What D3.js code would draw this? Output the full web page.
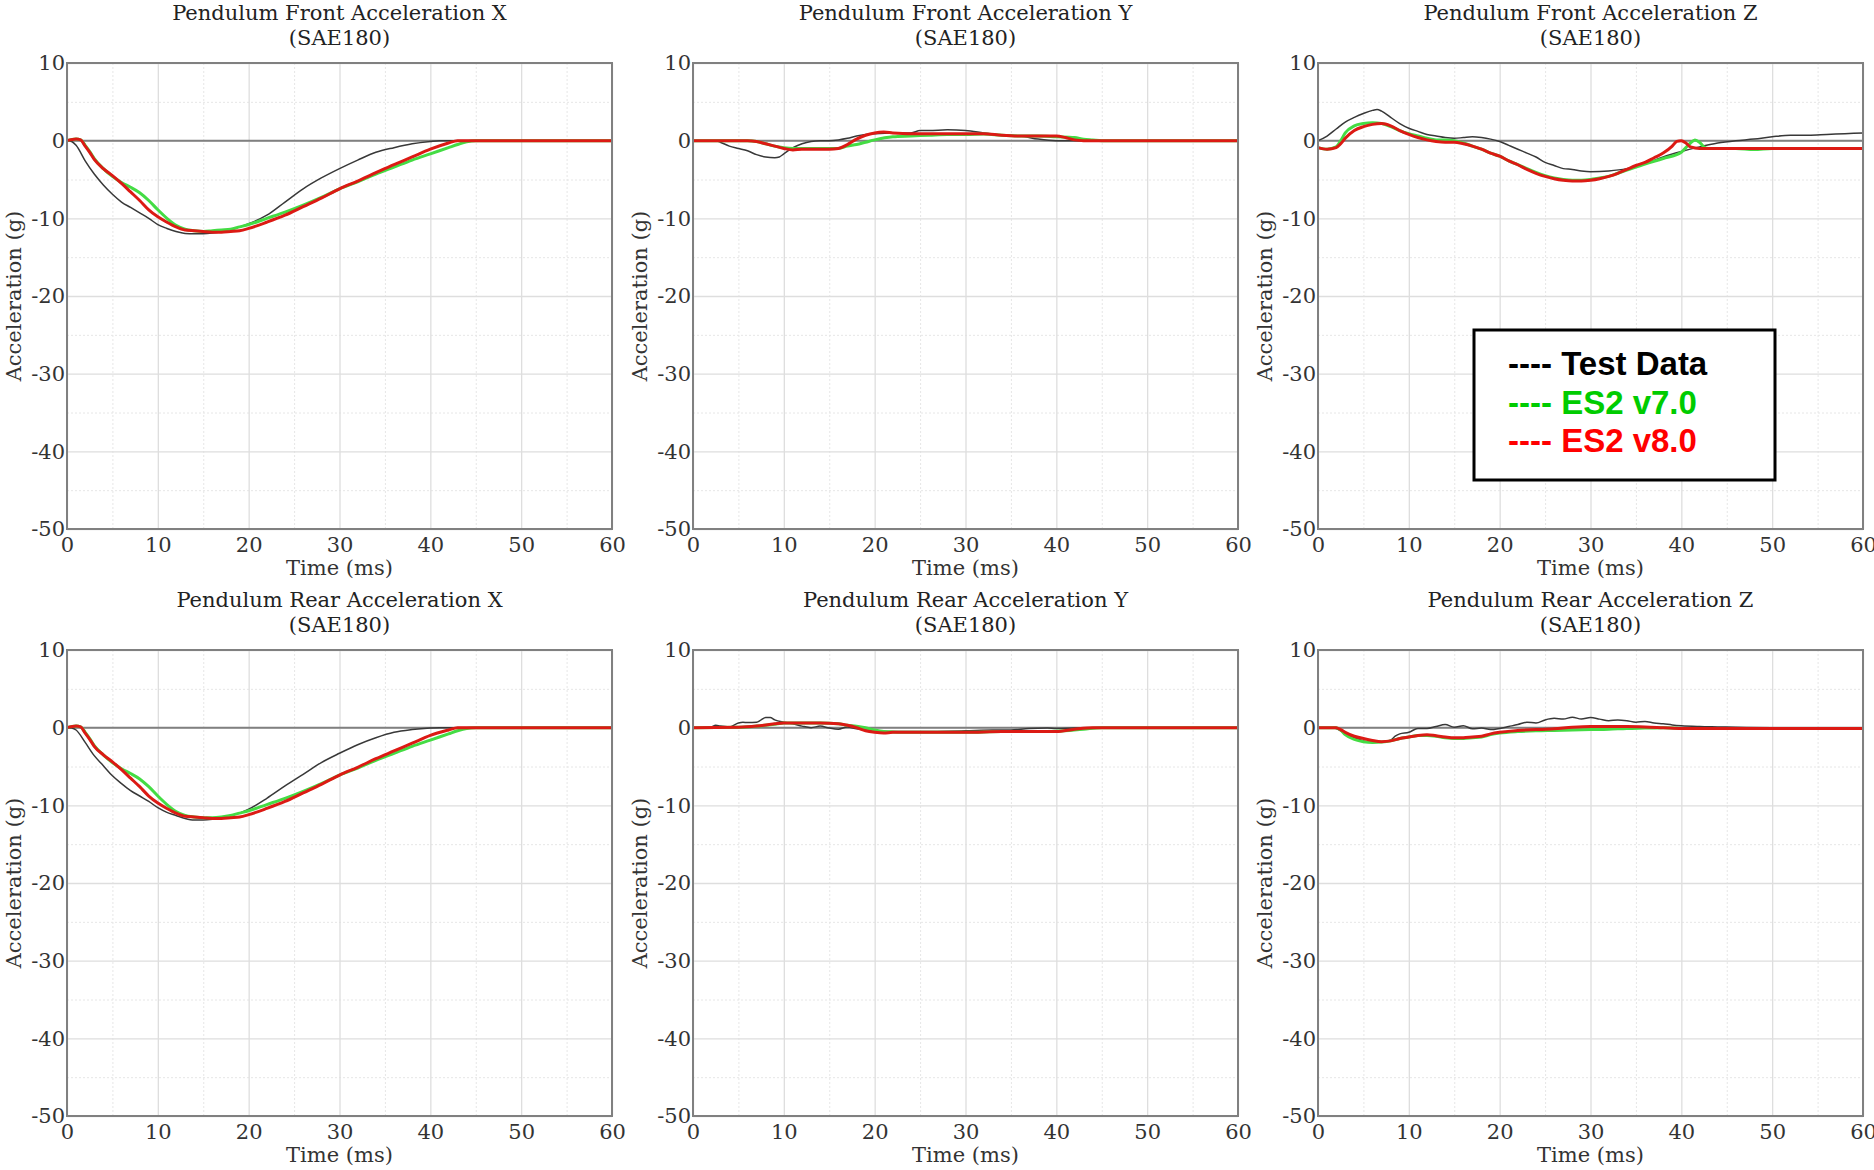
<!DOCTYPE html>
<html>
<head>
<meta charset="utf-8">
<script src="https://cdn.jsdelivr.net/npm/d3@7"></script>
<style>
  body { margin: 0; background: #fff; }
  svg { display: block; }
  .tick text { font-family: 'DejaVu Serif', serif; font-size: 21px; fill: #333; }
  .grid .domain { display: none; }
</style>
</head>
<body>
<svg id="chart"></svg>
<script>
// [time (ms), acceleration (g)]
var frontXTest = [[0,0],[0.5,-0.1],[1,-0.6],[2,-2.6],[3,-4.3],[4,-5.7],[5,-6.9],[6,-7.9],[7,-8.6],[8,-9.3],[9,-10],[10,-10.8],[11,-11.3],[12,-11.7],[13,-11.95],[14,-12],[15,-12],[16,-11.9],[17,-11.7],[18,-11.4],[19,-11.1],[20,-10.7],[22,-9.6],[24,-7.9],[26,-6.2],[28,-4.8],[30,-3.6],[32,-2.5],[34,-1.5],[36,-0.9],[38,-0.4],[40,-0.1],[41,0],[60,0]];
var frontXV7 = [[0,0],[1,0.2],[1.5,0.1],[2,-0.6],[2.5,-1.4],[3,-2.3],[4,-3.6],[5,-4.6],[6,-5.4],[7,-6.0],[8,-6.7],[9,-7.7],[10,-8.9],[11,-10],[12,-10.9],[13,-11.4],[14,-11.6],[15,-11.7],[16,-11.6],[17,-11.5],[18,-11.4],[19,-11.1],[20,-10.8],[22,-10.0],[24,-9.2],[26,-8.3],[28,-7.3],[30,-6.2],[32,-5.3],[34,-4.3],[36,-3.4],[38,-2.5],[40,-1.7],[42,-0.9],[43,-0.5],[44,-0.15],[45,0],[60,0]];
var frontXV8 = [[0,0],[1,0.2],[1.5,0.1],[2,-0.7],[2.5,-1.5],[3,-2.4],[4,-3.6],[5,-4.5],[6,-5.5],[7,-6.6],[8,-7.7],[9,-8.9],[10,-9.8],[11,-10.5],[12,-11.1],[13,-11.5],[14,-11.6],[15,-11.7],[16,-11.8],[17,-11.8],[18,-11.7],[19,-11.6],[20,-11.3],[22,-10.5],[24,-9.6],[26,-8.5],[28,-7.4],[30,-6.2],[32,-5.2],[34,-4.1],[36,-3.1],[38,-2.1],[40,-1.1],[42,-0.3],[43,0],[60,0]];

var frontYTest = [[0,0],[2.5,0],[3,-0.2],[4,-0.7],[5,-1.0],[6,-1.3],[7,-1.8],[8,-2.1],[9,-2.2],[9.5,-2.1],[10,-1.7],[11,-0.9],[12,-0.4],[13,-0.1],[14,0],[15,0],[16,0.1],[17,0.3],[18,0.6],[19,0.8],[20,0.9],[22,1.0],[24,1.0],[25,1.3],[26,1.3],[28,1.4],[30,1.3],[32,1.0],[34,0.7],[36,0.6],[38,0.2],[40,0],[60,0]];
var frontYV7 = [[0,0],[6,0],[7,-0.1],[8,-0.4],[9,-0.7],[10,-0.9],[11,-1.0],[12,-1.0],[14,-1.0],[16,-1.0],[17,-0.7],[18,-0.5],[19,-0.2],[20,0.1],[22,0.5],[24,0.6],[26,0.7],[28,0.8],[30,0.8],[32,0.85],[34,0.7],[36,0.6],[38,0.6],[40,0.5],[42,0.4],[43,0.2],[44,0.1],[45,0],[60,0]];
var frontYV8 = [[0,0],[6,0],[7,-0.1],[8,-0.4],[9,-0.7],[10,-1.0],[11,-1.2],[12,-1.1],[14,-1.1],[15,-1.1],[16,-1.0],[17,-0.5],[18,0.2],[19,0.7],[20,1.0],[21,1.1],[22,1.0],[24,0.9],[26,0.9],[28,0.9],[30,0.9],[32,0.9],[34,0.7],[36,0.6],[38,0.6],[40,0.6],[41,0.4],[42,0.1],[43,0],[60,0]];

var frontZTest = [[0,0],[1,0.6],[2,1.5],[3,2.4],[4,3.0],[5,3.5],[6,3.9],[6.5,4.0],[7,3.8],[8,3.0],[9,2.2],[10,1.6],[11,1.2],[12,0.8],[13,0.6],[14,0.4],[15,0.3],[16,0.4],[17,0.5],[18,0.4],[19,0.2],[20,-0.1],[21,-0.6],[22,-1.1],[23,-1.6],[24,-2.1],[25,-2.8],[26,-3.2],[27,-3.6],[28,-3.7],[29,-3.9],[30,-4.0],[32,-3.9],[34,-3.6],[36,-3.0],[38,-2.1],[40,-1.4],[42,-0.8],[44,-0.3],[46,0],[48,0.2],[50,0.5],[52,0.7],[54,0.7],[56,0.8],[58,0.9],[60,1.0]];
var frontZV7 = [[0,-0.9],[1,-1.1],[2,-0.8],[2.5,0],[3,1.0],[4,1.9],[5,2.2],[6,2.3],[7,2.2],[8,1.8],[9,1.3],[10,0.9],[11,0.6],[12,0.3],[13,0.1],[14,0.1],[15,0],[16,-0.3],[17,-0.7],[18,-1.1],[19,-1.6],[20,-2.0],[21,-2.6],[22,-3.1],[23,-3.6],[24,-4.1],[25,-4.5],[26,-4.8],[27,-5.0],[28,-5.1],[29,-5.1],[30,-5.0],[31,-4.8],[32,-4.6],[33,-4.2],[34,-3.8],[36,-3.0],[38,-2.3],[40,-1.5],[40.5,-0.9],[41,-0.3],[41.5,0.1],[42,-0.2],[42.5,-0.8],[43,-1.0],[46,-1.0],[48,-1.15],[50,-1.0],[60,-1.0]];
var frontZV8 = [[0,-0.9],[1,-1.1],[2,-0.9],[2.5,-0.4],[3,0.3],[4,1.3],[5,1.8],[6,2.1],[7,2.2],[8,1.9],[9,1.3],[10,0.8],[11,0.4],[12,0.1],[13,-0.1],[14,-0.2],[15,-0.2],[16,-0.4],[17,-0.7],[18,-1.1],[19,-1.6],[20,-2.0],[21,-2.6],[22,-3.1],[23,-3.7],[24,-4.2],[25,-4.6],[26,-4.9],[27,-5.1],[28,-5.2],[29,-5.2],[30,-5.1],[31,-4.9],[32,-4.6],[33,-4.2],[34,-3.7],[35,-3.2],[36,-2.8],[37,-2.2],[38,-1.6],[39,-0.7],[39.5,-0.1],[40,0],[40.5,-0.3],[41,-0.8],[42,-1.0],[50,-1.0],[60,-1.0]];

var rearXTest = [[0,0],[0.5,-0.05],[1,-0.3],[2,-1.9],[3,-3.6],[4,-4.9],[5,-6.2],[6,-7.2],[7,-8.1],[8,-8.8],[9,-9.5],[10,-10.3],[11,-10.9],[12,-11.3],[13,-11.7],[14,-11.9],[15,-11.9],[16,-11.8],[17,-11.6],[18,-11.3],[19,-11.0],[20,-10.5],[22,-9.1],[24,-7.5],[26,-6.0],[28,-4.5],[30,-3.3],[32,-2.2],[34,-1.3],[36,-0.6],[38,-0.25],[40,-0.05],[41,0],[60,0]];
var rearXV7 = [[0,0],[1,0.2],[1.5,0.1],[2,-0.6],[2.5,-1.4],[3,-2.3],[4,-3.5],[5,-4.5],[6,-5.3],[7,-5.9],[8,-6.6],[9,-7.6],[10,-8.8],[11,-9.9],[12,-10.8],[13,-11.3],[14,-11.5],[15,-11.6],[16,-11.6],[17,-11.5],[18,-11.3],[19,-11.0],[20,-10.7],[22,-9.9],[24,-9.1],[26,-8.2],[28,-7.2],[30,-6.1],[32,-5.2],[34,-4.2],[36,-3.3],[38,-2.4],[40,-1.6],[42,-0.8],[43,-0.4],[44,-0.1],[45,0],[60,0]];
var rearXV8 = [[0,0],[1,0.2],[1.5,0.1],[2,-0.7],[2.5,-1.5],[3,-2.4],[4,-3.5],[5,-4.4],[6,-5.4],[7,-6.5],[8,-7.6],[9,-8.8],[10,-9.7],[11,-10.4],[12,-11.0],[13,-11.4],[14,-11.5],[15,-11.6],[16,-11.7],[17,-11.7],[18,-11.6],[19,-11.5],[20,-11.2],[22,-10.4],[24,-9.5],[26,-8.4],[28,-7.3],[30,-6.1],[32,-5.1],[34,-4.0],[36,-3.0],[38,-2.0],[40,-1.0],[42,-0.3],[43,0],[60,0]];

var rearYTest = [[0,0],[1,0],[2,0.1],[2.5,0.3],[3,0.2],[4,0.1],[5,0.6],[5.5,0.7],[6,0.65],[7,0.7],[7.5,1.0],[8,1.3],[8.5,1.3],[9,1.0],[10,0.7],[11,0.5],[12,0.2],[13,0],[14,0.2],[15,-0.05],[16,-0.2],[17,0.1],[18,-0.15],[19,-0.3],[20,-0.4],[22,-0.5],[25,-0.5],[30,-0.4],[33,-0.3],[35,-0.3],[37,-0.1],[39,-0.05],[40,-0.1],[42,-0.05],[44,0],[60,0]];
var rearYV7 = [[0,0],[5,0.05],[7,0.2],[9,0.45],[10,0.6],[12,0.6],[14,0.6],[16,0.5],[17,0.3],[18,0.2],[19,0],[20,-0.3],[21,-0.5],[22,-0.55],[24,-0.6],[26,-0.6],[30,-0.6],[34,-0.5],[38,-0.5],[40,-0.45],[42,-0.3],[43,-0.2],[45,0],[60,0]];
var rearYV8 = [[0,0],[5,0.05],[7,0.2],[9,0.5],[10,0.6],[12,0.6],[14,0.6],[16,0.5],[17,0.3],[18,0],[19,-0.4],[20,-0.6],[21,-0.7],[22,-0.6],[24,-0.6],[26,-0.6],[30,-0.6],[34,-0.5],[38,-0.5],[40,-0.5],[42,-0.2],[44,0],[60,0]];

var rearZTest = [[0,0],[1.5,0],[2,-0.1],[3,-0.8],[4,-1.3],[5,-1.7],[6,-1.9],[7,-1.8],[8,-1.6],[8.5,-1.1],[9,-0.8],[10,-0.6],[11,-0.1],[12,-0.1],[13,0.15],[14,0.4],[15,0.05],[16,0.25],[17,-0.15],[18,-0.05],[19,-0.25],[20,-0.1],[21,0.15],[22,0.4],[23,0.7],[24,0.6],[25,1.0],[26,1.2],[27,1.1],[28,1.35],[29,1.1],[30,1.3],[31,1.1],[32,0.9],[33,1.0],[34,0.9],[35,0.7],[36,0.8],[37,0.6],[38,0.5],[39,0.35],[40,0.25],[42,0.15],[44,0.1],[46,0.05],[50,0],[60,0]];
var rearZV7 = [[0,0],[2,0],[2.5,-0.3],[3,-0.9],[4,-1.5],[5,-1.8],[6,-1.9],[7,-1.85],[8,-1.7],[9,-1.4],[10,-1.2],[11,-1.0],[12,-1.0],[13,-1.1],[14,-1.3],[15,-1.4],[16,-1.4],[17,-1.3],[18,-1.2],[19,-0.9],[20,-0.7],[22,-0.5],[24,-0.4],[26,-0.35],[28,-0.3],[30,-0.25],[32,-0.2],[34,-0.1],[36,-0.05],[38,0],[40,-0.1],[60,-0.1]];
var rearZV8 = [[0,0],[2,0],[2.5,-0.25],[3,-0.6],[4,-1.1],[5,-1.4],[6,-1.65],[7,-1.8],[8,-1.7],[9,-1.4],[10,-1.2],[11,-1.0],[12,-0.9],[13,-1.05],[14,-1.2],[15,-1.3],[16,-1.3],[17,-1.2],[18,-1.1],[19,-0.8],[20,-0.6],[22,-0.35],[24,-0.25],[26,-0.15],[28,0.05],[30,0.15],[32,0.15],[34,0.15],[36,0.1],[38,0],[40,-0.1],[60,-0.1]];

var titles = ['Pendulum Front Acceleration X', 'Pendulum Front Acceleration Y', 'Pendulum Front Acceleration Z',
              'Pendulum Rear Acceleration X', 'Pendulum Rear Acceleration Y', 'Pendulum Rear Acceleration Z'];
var seriesNames = ['Test Data', 'ES2 v7.0', 'ES2 v8.0'];
var timeTicks = [0, 10, 20, 30, 40, 50, 60];
var accelTicks = [10, 0, -10, -20, -30, -40, -50];
var timeMinor = [5, 15, 25, 35, 45, 55];
var accelMinor = [5, -5, -15, -25, -35, -45];

var panelData = [
  [frontXTest, frontXV7, frontXV8],
  [frontYTest, frontYV7, frontYV8],
  [frontZTest, frontZV7, frontZV8],
  [rearXTest, rearXV7, rearXV8],
  [rearYTest, rearYV7, rearYV8],
  [rearZTest, rearZV7, rearZV8]
];

var lineColors = ['#383838', '#44dc44', '#dc1a14'];
var lineWidths = [1.5, 3, 3];
var legendColors = ['#000000', '#00cc00', '#ff0000'];

var width = 1874, height = 1170;
var colLeft = [67, 693, 1318], rowTop = [63, 650];
var plotW = 545, plotH = 466;
var serif = "'DejaVu Serif', serif";
var plain = function(d) { return String(d); };   // keep the plain hyphen like the original

var svg = d3.select('#chart')
  .attr('width', width)
  .attr('height', height);

panelData.forEach(function(series, i) {
  var col = i % 3, row = Math.floor(i / 3);
  var g = svg.append('g')
    .attr('transform', 'translate(' + colLeft[col] + ',' + rowTop[row] + ')');

  var x = d3.scaleLinear().domain([0, 60]).range([0, plotW]);
  var y = d3.scaleLinear().domain([-50, 10]).range([plotH, 0]);

  // minor grid (dotted) then major grid
  g.append('g').attr('class', 'grid')
    .attr('transform', 'translate(0,' + plotH + ')')
    .call(d3.axisBottom(x).tickValues(timeMinor).tickSize(-plotH).tickFormat(''))
    .selectAll('line').attr('stroke', '#e6e6e6').attr('stroke-dasharray', '2,2');
  g.append('g').attr('class', 'grid')
    .call(d3.axisLeft(y).tickValues(accelMinor).tickSize(-plotW).tickFormat(''))
    .selectAll('line').attr('stroke', '#e6e6e6').attr('stroke-dasharray', '2,2');
  g.append('g').attr('class', 'grid')
    .attr('transform', 'translate(0,' + plotH + ')')
    .call(d3.axisBottom(x).tickValues(timeTicks).tickSize(-plotH).tickFormat(''))
    .selectAll('line').attr('stroke', '#dedede').attr('stroke-width', 1.3);
  g.append('g').attr('class', 'grid')
    .call(d3.axisLeft(y).tickValues(accelTicks).tickSize(-plotW).tickFormat(''))
    .selectAll('line').attr('stroke', '#dedede').attr('stroke-width', 1.3);

  // zero line
  g.append('line')
    .attr('x1', 0).attr('x2', plotW)
    .attr('y1', y(0)).attr('y2', y(0))
    .attr('stroke', '#808080').attr('stroke-width', 2);

  // tick labels
  var xAxis = g.append('g')
    .attr('transform', 'translate(0,' + plotH + ')')
    .call(d3.axisBottom(x).tickValues(timeTicks).tickSize(0).tickPadding(8).tickFormat(plain));
  xAxis.select('.domain').remove();

  var yAxis = g.append('g')
    .call(d3.axisLeft(y).tickValues(accelTicks).tickSize(0).tickPadding(2).tickFormat(plain));
  yAxis.select('.domain').remove();

  // curves
  var line = d3.line()
    .x(function(d) { return x(d[0]); })
    .y(function(d) { return y(d[1]); })
    .curve(d3.curveMonotoneX);

  series.forEach(function(s, k) {
    g.append('path')
      .datum(s)
      .attr('fill', 'none')
      .attr('stroke', lineColors[k])
      .attr('stroke-width', lineWidths[k])
      .attr('stroke-linejoin', 'round')
      .attr('d', line);
  });

  // frame
  g.append('rect')
    .attr('width', plotW).attr('height', plotH)
    .attr('fill', 'none').attr('stroke', '#808080').attr('stroke-width', 2);

  // titles and axis labels
  g.append('text')
    .attr('x', plotW / 2).attr('y', -50).attr('dy', '0.35em')
    .attr('text-anchor', 'middle')
    .style('font-family', serif).style('font-size', '21px').style('fill', '#222')
    .text(titles[i]);
  g.append('text')
    .attr('x', plotW / 2).attr('y', -25).attr('dy', '0.35em')
    .attr('text-anchor', 'middle')
    .style('font-family', serif).style('font-size', '21px').style('fill', '#222')
    .text('(SAE180)');
  g.append('text')
    .attr('x', plotW / 2).attr('y', plotH + 39).attr('dy', '0.35em')
    .attr('text-anchor', 'middle')
    .style('font-family', serif).style('font-size', '21px').style('fill', '#333')
    .text('Time (ms)');
  g.append('text')
    .attr('transform', 'rotate(-90)')
    .attr('x', -plotH / 2).attr('y', -53).attr('dy', '0.35em')
    .attr('text-anchor', 'middle')
    .style('font-family', serif).style('font-size', '21px').style('fill', '#333')
    .text('Acceleration (g)');

  // legend lives in the Front Z panel
  if (i === 2) {
    var lg = g.append('g').attr('transform', 'translate(156,267)');
    lg.append('rect')
      .attr('width', 301).attr('height', 150)
      .attr('fill', '#fff').attr('stroke', '#000').attr('stroke-width', 3);
    seriesNames.forEach(function(name, k) {
      lg.append('text')
        .attr('x', 34).attr('y', 45 + k * 38.5)
        .style('font-family', "'Liberation Sans', Arial, sans-serif")
        .style('font-size', '33px').style('font-weight', 'bold')
        .style('fill', legendColors[k])
        .text('---- ' + name);
    });
  }
});
</script>
</body>
</html>
